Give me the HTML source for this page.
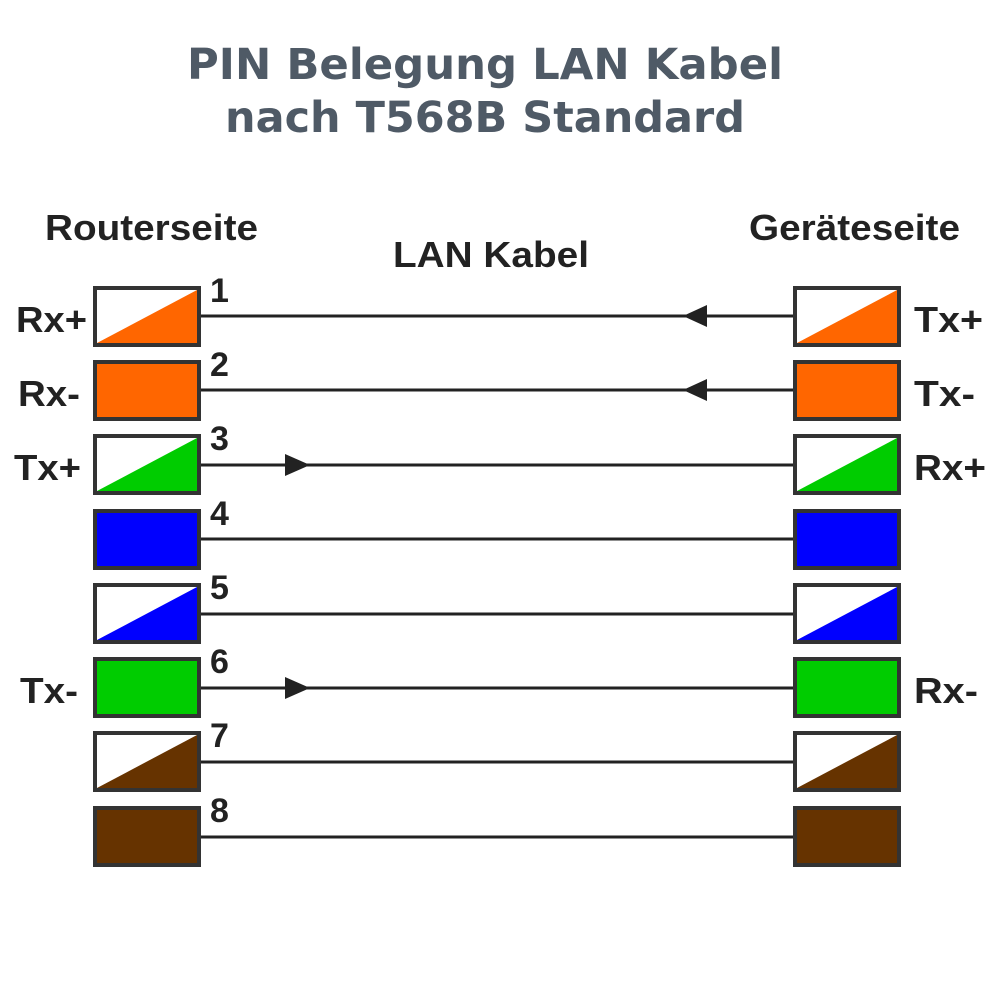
<!DOCTYPE html>
<html><head><meta charset="utf-8"><style>html,body{margin:0;padding:0;background:#fff}svg{display:block}</style></head>
<body>
<svg width="1000" height="1000" viewBox="0 0 1000 1000" xmlns="http://www.w3.org/2000/svg">
<rect width="1000" height="1000" fill="#fff"/>
<g font-family="DejaVu Sans, sans-serif" font-weight="bold" fill="#4f5a66" font-size="43" text-anchor="middle">
<text x="485" y="79" textLength="596" lengthAdjust="spacingAndGlyphs">PIN Belegung LAN Kabel</text>
<text x="485" y="132" textLength="520" lengthAdjust="spacingAndGlyphs">nach T568B Standard</text>
</g>
<g font-family="Liberation Sans, Arial, sans-serif" font-weight="bold" fill="#222" font-size="36">
<text x="45" y="240" textLength="213" lengthAdjust="spacingAndGlyphs">Routerseite</text>
<text x="749" y="240" textLength="211" lengthAdjust="spacingAndGlyphs">Geräteseite</text>
<text x="393" y="267" textLength="196" lengthAdjust="spacingAndGlyphs">LAN Kabel</text>
</g>
<g stroke="#222" stroke-width="3">
<line x1="201" y1="316" x2="793" y2="316"/>
<line x1="201" y1="390" x2="793" y2="390"/>
<line x1="201" y1="465" x2="793" y2="465"/>
<line x1="201" y1="539" x2="793" y2="539"/>
<line x1="201" y1="614" x2="793" y2="614"/>
<line x1="201" y1="688" x2="793" y2="688"/>
<line x1="201" y1="762" x2="793" y2="762"/>
<line x1="201" y1="837" x2="793" y2="837"/>
</g>
<g fill="#222">
<polygon points="683,316 707,305 707,327"/>
<polygon points="683,390 707,379 707,401"/>
<polygon points="310,465 285,454 285,476"/>
<polygon points="310,688 285,677 285,699"/>
</g>
<g stroke="#333" stroke-width="4">
<rect x="95" y="288" width="104" height="57" fill="#fff"/>
<rect x="95" y="362" width="104" height="57" fill="#ff6600"/>
<rect x="95" y="436" width="104" height="57" fill="#fff"/>
<rect x="95" y="511" width="104" height="57" fill="#0000ff"/>
<rect x="95" y="585" width="104" height="57" fill="#fff"/>
<rect x="95" y="659" width="104" height="57" fill="#00cc00"/>
<rect x="95" y="733" width="104" height="57" fill="#fff"/>
<rect x="95" y="808" width="104" height="57" fill="#663300"/>
<rect x="795" y="288" width="104" height="57" fill="#fff"/>
<rect x="795" y="362" width="104" height="57" fill="#ff6600"/>
<rect x="795" y="436" width="104" height="57" fill="#fff"/>
<rect x="795" y="511" width="104" height="57" fill="#0000ff"/>
<rect x="795" y="585" width="104" height="57" fill="#fff"/>
<rect x="795" y="659" width="104" height="57" fill="#00cc00"/>
<rect x="795" y="733" width="104" height="57" fill="#fff"/>
<rect x="795" y="808" width="104" height="57" fill="#663300"/>
</g>
<g>
<polygon points="97,343 197,290 197,343" fill="#ff6600"/>
<polygon points="97,491 197,438 197,491" fill="#00cc00"/>
<polygon points="97,640 197,587 197,640" fill="#0000ff"/>
<polygon points="97,788 197,735 197,788" fill="#663300"/>
<polygon points="797,343 897,290 897,343" fill="#ff6600"/>
<polygon points="797,491 897,438 897,491" fill="#00cc00"/>
<polygon points="797,640 897,587 897,640" fill="#0000ff"/>
<polygon points="797,788 897,735 897,788" fill="#663300"/>
</g>
<g font-family="Liberation Sans, Arial, sans-serif" font-weight="bold" fill="#222" font-size="34">
<text x="210" y="302">1</text>
<text x="210" y="376">2</text>
<text x="210" y="450">3</text>
<text x="210" y="525">4</text>
<text x="210" y="599">5</text>
<text x="210" y="673">6</text>
<text x="210" y="747">7</text>
<text x="210" y="822">8</text>
</g>
<g font-family="Liberation Sans, Arial, sans-serif" font-weight="bold" fill="#222" font-size="36">
<text x="16" y="332" textLength="71" lengthAdjust="spacingAndGlyphs">Rx+</text>
<text x="18" y="406" textLength="62" lengthAdjust="spacingAndGlyphs">Rx-</text>
<text x="14" y="480" textLength="67" lengthAdjust="spacingAndGlyphs">Tx+</text>
<text x="20" y="703" textLength="58" lengthAdjust="spacingAndGlyphs">Tx-</text>
<text x="914" y="332" textLength="69" lengthAdjust="spacingAndGlyphs">Tx+</text>
<text x="914" y="406" textLength="61" lengthAdjust="spacingAndGlyphs">Tx-</text>
<text x="914" y="480" textLength="72" lengthAdjust="spacingAndGlyphs">Rx+</text>
<text x="914" y="703" textLength="64" lengthAdjust="spacingAndGlyphs">Rx-</text>
</g>
</svg>
</body></html>
